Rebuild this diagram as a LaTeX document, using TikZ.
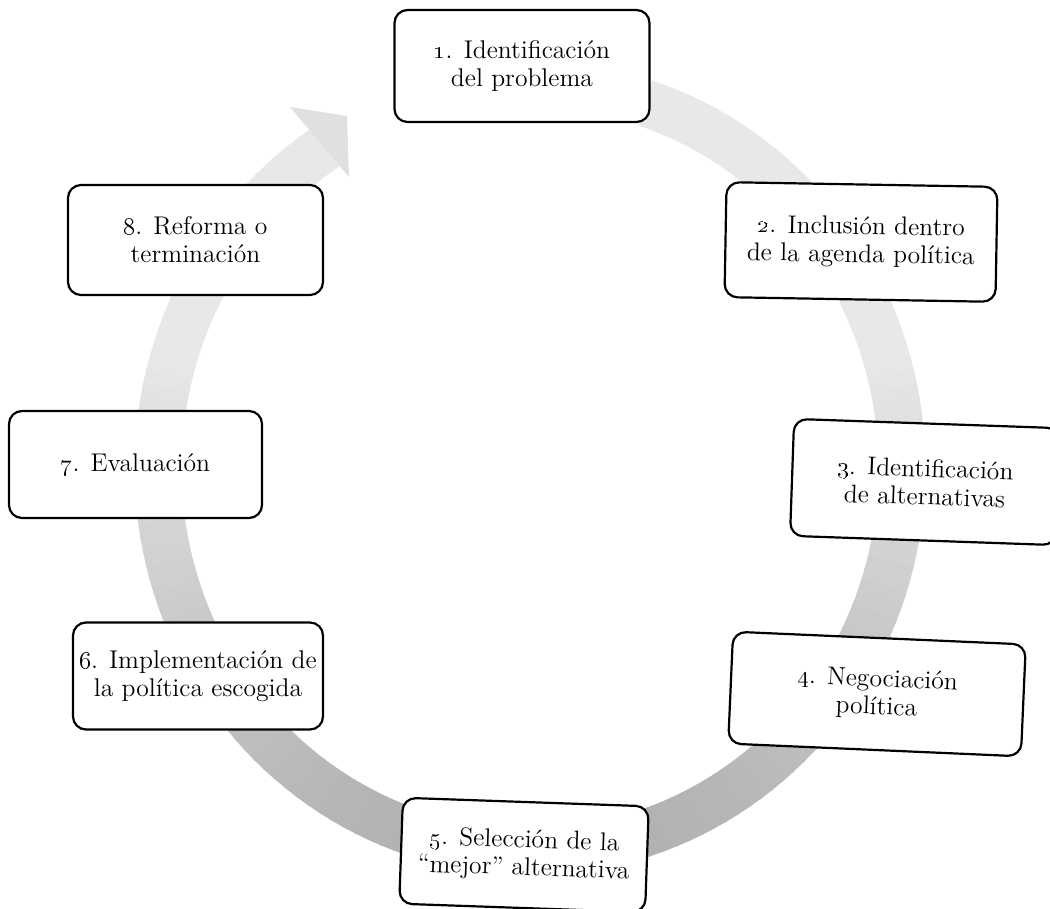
\documentclass[tikz,border=0pt]{standalone}
\begin{document}
\begin{tikzpicture}[x=0.5pt,y=-0.5pt,
  stage/.style={draw=black, line width=1.1pt, rounded corners=6.5pt, fill=white,
    align=center, inner sep=0pt, font=\fontsize{12.8}{14}\selectfont},
]
\useasboundingbox (0,0) rectangle (1050,909);
\clip (0,0) rectangle (1050,909);

% grey cycle band, drawn clockwise from behind stage 1 round to the arrow head
\def\cx{530}\def\cy{468}\def\rx{372}\def\ry{384}\def\hw{23.5}
\foreach \a in {72,70,...,-236} {
  \pgfmathsetmacro\b{\a-2.4}
  \pgfmathsetmacro\k{max(9,14-17*sin(\a-1))}
  \fill[black!\k]
    ({\cx+(\rx+\hw)*cos(\a)},{\cy-(\ry+\hw)*sin(\a)}) --
    ({\cx+(\rx+\hw)*cos(\b)},{\cy-(\ry+\hw)*sin(\b)}) --
    ({\cx+(\rx-\hw)*cos(\b)},{\cy-(\ry-\hw)*sin(\b)}) --
    ({\cx+(\rx-\hw)*cos(\a)},{\cy-(\ry-\hw)*sin(\a)}) -- cycle;
}
% arrow head pointing back at stage 1
\fill[black!12] (290,107) -- (347,116) -- (349,177) -- cycle;

% the eight stages
\node[stage, minimum width=127.5pt, minimum height=56pt] (s1) at (522,66)
  {\oldstylenums{1}. Identificación\\del problema};
\node[stage, minimum width=135.5pt, minimum height=57.5pt, rotate=-1] (s2) at (861,242)
  {\oldstylenums{2}. Inclusión dentro\\de la agenda política};
\node[stage, minimum width=133pt, minimum height=58.5pt, rotate=-2] (s3) at (925,482)
  {\oldstylenums{3}. Identificación\\de alternativas};
\node[stage, minimum width=146.5pt, minimum height=56pt, rotate=-2.5] (s4) at (877,694)
  {\oldstylenums{4}. Negociación\\política};
\node[stage, minimum width=123pt, minimum height=53pt, rotate=-2] (s5) at (524,855)
  {\oldstylenums{5}. Selección de la\\“mejor” alternativa};
\node[stage, minimum width=125pt, minimum height=53.5pt] (s6) at (198,676)
  {\oldstylenums{6}. Implementación de\\la política escogida};
\node[stage, minimum width=126.5pt, minimum height=53.5pt] (s7) at (135.5,464.5)
  {\oldstylenums{7}. Evaluación};
\node[stage, minimum width=127.5pt, minimum height=55pt] (s8) at (195.5,240)
  {\oldstylenums{8}. Reforma o\\terminación};
\end{tikzpicture}
\end{document}
